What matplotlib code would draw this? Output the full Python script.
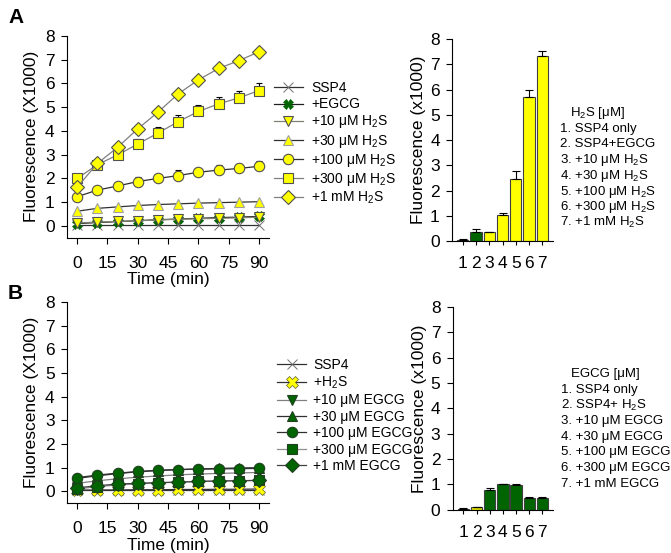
import numpy as np
import matplotlib
matplotlib.use('Agg')
import matplotlib.pyplot as plt

plt.rcParams['font.family'] = ['Liberation Sans', 'DejaVu Sans']
plt.rcParams['mathtext.fontset'] = 'custom'
plt.rcParams['mathtext.rm'] = 'Liberation Sans'
plt.rcParams['mathtext.it'] = 'Liberation Sans:italic'

YEL = '#ffff00'
GRN = '#006400'
EDGE = '#505050'

time = [0, 10, 20, 30, 40, 50, 60, 70, 80, 90]

# ---- panel A: SSP4 + H2S time course ----
a_labels = ['SSP4', '+EGCG', '+10 μM H$_2$S', '+30 μM H$_2$S',
            '+100 μM H$_2$S', '+300 μM H$_2$S', '+1 mM H$_2$S']
a_ssp4 = [0.05, 0.05, 0.05, 0.05, 0.05, 0.05, 0.05, 0.05, 0.05, 0.05]
a_egcg = [0.10, 0.14, 0.18, 0.22, 0.26, 0.29, 0.32, 0.35, 0.37, 0.40]
a_h10 = [0.13, 0.16, 0.19, 0.22, 0.25, 0.28, 0.30, 0.32, 0.34, 0.37]
a_h30 = [0.62, 0.74, 0.80, 0.86, 0.90, 0.93, 0.96, 0.98, 1.00, 1.02]
a_h100 = [1.23, 1.51, 1.68, 1.87, 2.00, 2.12, 2.26, 2.35, 2.42, 2.51]
a_h300 = [2.00, 2.58, 2.99, 3.45, 3.91, 4.39, 4.82, 5.14, 5.39, 5.70]
a_h1m = [1.63, 2.63, 3.31, 4.09, 4.79, 5.56, 6.15, 6.63, 6.96, 7.33]
a_err100 = [0.05, 0.08, 0.15, 0.2, 0.2, 0.22, 0.2, 0.22, 0.2, 0.22]
a_err300 = [0.05, 0.08, 0.12, 0.2, 0.25, 0.28, 0.28, 0.3, 0.3, 0.3]
a_err1m = [0.05, 0.05, 0.08, 0.08, 0.08, 0.08, 0.08, 0.1, 0.12, 0.15]

# ---- panel B: SSP4 + H2S + EGCG time course ----
b_labels = ['SSP4', '+H$_2$S', '+10 μM EGCG', '+30 μM EGCG',
            '+100 μM EGCG', '+300 μM EGCG', '+1 mM EGCG']
b_ssp4 = [0.05, 0.05, 0.05, 0.05, 0.05, 0.05, 0.05, 0.05, 0.05, 0.05]
b_h2s = [0.05, 0.06, 0.06, 0.07, 0.07, 0.08, 0.08, 0.09, 0.09, 0.10]
b_e10 = [0.34, 0.45, 0.53, 0.60, 0.65, 0.70, 0.73, 0.76, 0.78, 0.80]
b_e30 = [0.55, 0.66, 0.75, 0.83, 0.88, 0.92, 0.95, 0.97, 0.99, 1.00]
b_e100 = [0.58, 0.69, 0.77, 0.84, 0.89, 0.92, 0.94, 0.95, 0.96, 0.97]
b_e300 = [0.10, 0.20, 0.27, 0.32, 0.36, 0.39, 0.42, 0.44, 0.45, 0.47]
b_e1m = [0.15, 0.24, 0.31, 0.34, 0.37, 0.39, 0.42, 0.44, 0.45, 0.46]

# ---- bar charts (90 min) ----
bar_x = [1, 2, 3, 4, 5, 6, 7]
a_bar = [0.05, 0.38, 0.35, 1.03, 2.48, 5.70, 7.35]
a_bar_err = [0.02, 0.10, 0.03, 0.07, 0.28, 0.30, 0.18]
a_bar_col = ['#303030', GRN, YEL, YEL, YEL, YEL, YEL]
a_list = ['H$_2$S [μM]', '1. SSP4 only', '2. SSP4+EGCG', '3. +10 μM H$_2$S',
          '4. +30 μM H$_2$S', '5. +100 μM H$_2$S', '6. +300 μM H$_2$S',
          '7. +1 mM H$_2$S']
b_bar = [0.05, 0.10, 0.80, 1.00, 0.97, 0.47, 0.47]
b_bar_err = [0.01, 0.01, 0.05, 0.03, 0.03, 0.02, 0.02]
b_bar_col = ['#303030', '#e0e000', GRN, GRN, GRN, GRN, GRN]
b_list = ['EGCG [μM]', '1. SSP4 only', '2. SSP4+ H$_2$S', '3. +10 μM EGCG',
          '4. +30 μM EGCG', '5. +100 μM EGCG', '6. +300 μM EGCG',
          '7. +1 mM EGCG']

fig = plt.figure(figsize=(6.71, 5.53), dpi=100)


def style_line_ax(ax):
    ax.set_xlim(-5, 95)
    ax.set_ylim(-0.5, 8)
    ax.set_xticks([0, 15, 30, 45, 60, 75, 90])
    ax.set_yticks(range(0, 9))
    for sp in ['top', 'right']:
        ax.spines[sp].set_visible(False)
    ax.tick_params(axis='x', labelsize=12.5, length=4, pad=9)
    ax.tick_params(axis='y', labelsize=12.5, length=4, pad=5)
    ax.set_xlabel('Time (min)', fontsize=12.5, labelpad=1)
    ax.set_ylabel('Fluorescence (X1000)', fontsize=12.5, labelpad=4)


def style_bar_ax(ax):
    ax.set_xlim(0.2, 7.8)
    ax.set_ylim(0, 8)
    ax.set_xticks(bar_x)
    ax.set_yticks(range(0, 9))
    for sp in ['top', 'right']:
        ax.spines[sp].set_visible(False)
    ax.tick_params(axis='x', labelsize=12.5, length=3, pad=8)
    ax.tick_params(axis='y', labelsize=12.5, length=4, pad=5)
    ax.set_ylabel('Fluorescence (x1000)', fontsize=12.5, labelpad=3)


def series(ax, y, err, marker, face, edge, lc, label, ms=7.5, mew=0.8):
    ax.plot(time, y, color=lc, lw=0.9, marker=marker, ms=ms,
            mfc=face, mec=edge, mew=mew, label=label, zorder=3)
    if err is not None:
        ax.errorbar(time, y, yerr=[np.zeros(len(err)), err], fmt='none',
                    ecolor='black', elinewidth=0.8, capsize=2.5, capthick=0.8,
                    zorder=2)


# ---------- A line ----------
ax1 = fig.add_axes([0.100, 0.570, 0.301, 0.365])
series(ax1, a_ssp4, None, 'x', 'none', '#707070', '#303030', a_labels[0], ms=7, mew=0.7)
series(ax1, a_egcg, None, 'X', GRN, GRN, '#202020', a_labels[1], ms=7, mew=0.5)
series(ax1, a_h10, None, 'v', YEL, EDGE, '#808070', a_labels[2])
series(ax1, a_h30, None, '^', YEL, '#a0a0a0', '#303030', a_labels[3])
series(ax1, a_h100, a_err100, 'o', YEL, EDGE, '#303030', a_labels[4])
series(ax1, a_h300, a_err300, 's', YEL, EDGE, '#808080', a_labels[5])
series(ax1, a_h1m, a_err1m, 'D', YEL, EDGE, '#808080', a_labels[6], ms=7)
style_line_ax(ax1)
ax1.legend(loc='upper left', bbox_to_anchor=(0.408, 0.853),
           bbox_transform=fig.transFigure, frameon=False, fontsize=10,
           handlelength=2.1, handletextpad=0.6, borderpad=0,
           borderaxespad=0, labelspacing=0.15)

# ---------- A bar ----------
ax2 = fig.add_axes([0.674, 0.564, 0.150, 0.365])
ax2.bar(bar_x, a_bar, width=0.85, color=a_bar_col, edgecolor='#404040', lw=0.8)
ax2.errorbar(bar_x, a_bar, yerr=[np.zeros(7), a_bar_err], fmt='none',
             ecolor='black', elinewidth=0.8, capsize=3, capthick=0.8)
style_bar_ax(ax2)
for i, t in enumerate(a_list):
    fig.text(0.834 + (0.015 if i == 0 else 0), 1 - (113 + i * 15.7) / 553, t,
             fontsize=9.5, va='center', ha='left')

# ---------- B line ----------
ax3 = fig.add_axes([0.100, 0.090, 0.301, 0.364])
series(ax3, b_ssp4, None, 'x', 'none', '#707070', '#303030', b_labels[0], ms=7, mew=0.7)
series(ax3, b_h2s, None, 'X', YEL, '#606030', '#303030', b_labels[1], ms=8, mew=0.5)
series(ax3, b_e10, None, 'v', GRN, '#204020', '#808080', b_labels[2])
series(ax3, b_e30, None, '^', GRN, '#204020', '#303030', b_labels[3])
series(ax3, b_e300, None, 's', GRN, '#204020', '#909090', b_labels[5])
series(ax3, b_e1m, None, 'D', GRN, '#204020', '#404040', b_labels[6], ms=7)
series(ax3, b_e100, None, 'o', GRN, '#204020', '#303030', b_labels[4])
style_line_ax(ax3)
h, l = ax3.get_legend_handles_labels()
order = [0, 1, 2, 3, 6, 4, 5]
ax3.legend([h[k] for k in order], [l[k] for k in order],
           loc='upper left', bbox_to_anchor=(0.413, 0.352),
           bbox_transform=fig.transFigure, frameon=False, fontsize=10,
           handlelength=2.1, handletextpad=0.5, borderpad=0,
           borderaxespad=0, labelspacing=0.17)

# ---------- B bar ----------
ax4 = fig.add_axes([0.675, 0.078, 0.149, 0.367])
ax4.bar(bar_x, b_bar, width=0.85, color=b_bar_col, edgecolor='#404040', lw=0.8)
ax4.errorbar(bar_x, b_bar, yerr=[np.zeros(7), b_bar_err], fmt='none',
             ecolor='black', elinewidth=0.8, capsize=3, capthick=0.8)
style_bar_ax(ax4)
for i, t in enumerate(b_list):
    fig.text(0.836 + (0.015 if i == 0 else 0), 1 - (374 + i * 15.7) / 553, t,
             fontsize=9.5, va='center', ha='left')

fig.text(0.012, 0.968, 'A', fontsize=15, fontweight='bold', va='center')
fig.text(0.012, 0.470, 'B', fontsize=15, fontweight='bold', va='center')

fig.savefig('out.png', dpi=100)
